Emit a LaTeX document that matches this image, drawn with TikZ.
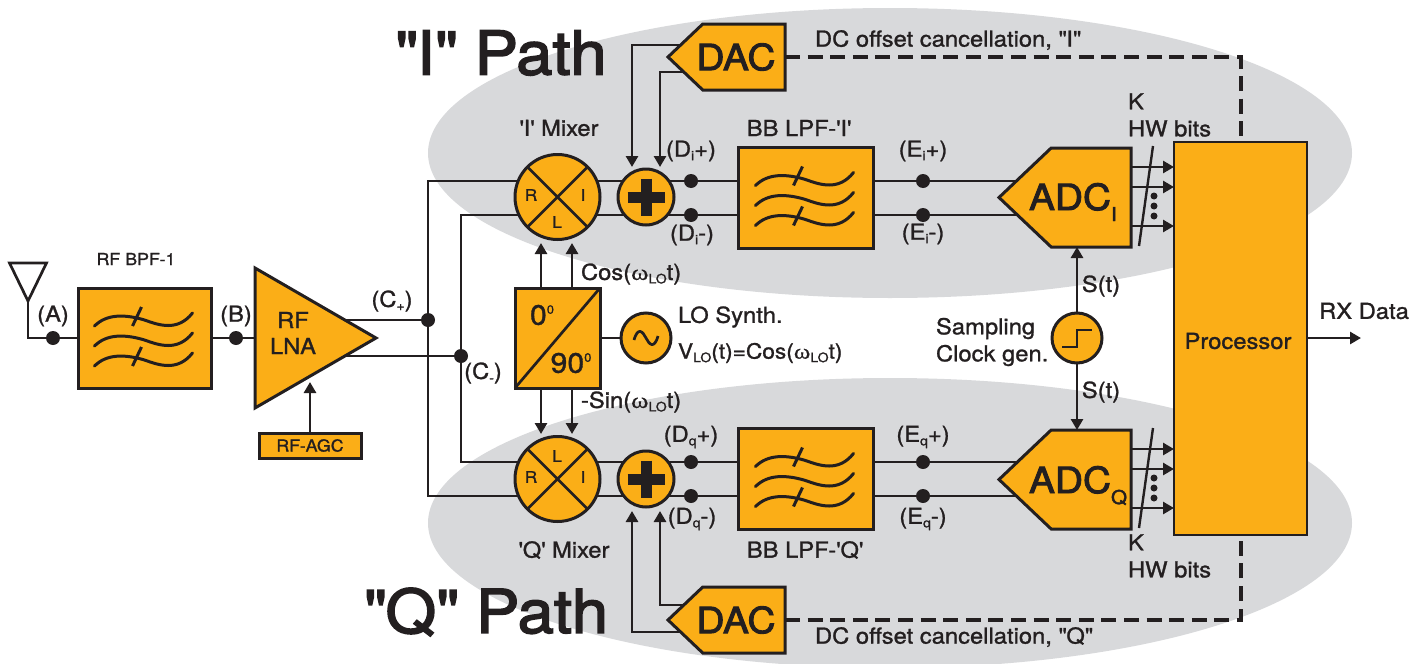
\documentclass[tikz,border=0pt]{standalone}
\usepackage{fontspec}
\setmainfont{TeX Gyre Heros}[FakeStretch=1.08, FakeBold=1.2]
\newfontfamily\heavyfont{TeX Gyre Heros}[FakeStretch=1.08, FakeBold=2.5]
\newfontfamily\greekfont{Liberation Serif}[FakeStretch=1.2, FakeBold=0.5]
\usepackage{tikz}
\usetikzlibrary{arrows.meta, positioning, backgrounds, shapes.geometric, shapes.symbols}
\definecolor{blockorange}{HTML}{FBAE17}
\definecolor{pathgray}{HTML}{D8D9DB}
\definecolor{ink}{HTML}{231F20}
\newcommand{\subtxt}[1]{\raisebox{-3.5pt}{\fontsize{13}{13}\selectfont #1}}
\newcommand{\suptxt}[1]{\raisebox{11pt}{\fontsize{12}{12}\selectfont #1}}
\newcommand{\omegalo}{{\greekfont ω}\subtxt{LO}}
\newcommand{\lowpart}[1]{\raisebox{-11pt}{\fontsize{19}{19}\selectfont #1}}
\tikzset{
  block/.style={draw=ink, fill=blockorange, line width=3pt, inner sep=0pt, outer sep=0pt, text=ink},
  dot/.style={circle, fill=ink, minimum size=14pt, inner sep=0pt, outer sep=0pt},
  lbl/.style={inner sep=0pt, outer sep=0pt, text=ink, font=\fontsize{22}{26}\selectfont},
  smalllbl/.style={lbl, font=\fontsize{16.5}{20}\selectfont},
  portlbl/.style={lbl, font=\fontsize{16}{18}\selectfont},
  biglbl/.style={lbl, font=\heavyfont\fontsize{60.5}{70}\selectfont},
  conv/.style={lbl, font=\heavyfont\fontsize{36}{42}\selectfont},
  adc/.style={block, signal, signal to=west, signal from=nowhere, signal pointer angle=87, minimum width=132pt, minimum height=99pt, anchor=east},
  dac/.style={block, signal, signal to=west, signal from=nowhere, signal pointer angle=87, minimum width=117pt, minimum height=66pt, anchor=east},
  wire/.style={draw=ink, line width=2.7pt},
  pics/filterwave/.style={code={
    \foreach \dy in {-20,0,20}
      \draw[ink, line width=3pt, line cap=round] (-50,8+\dy) .. controls (-38,-4+\dy) and (-20,-4+\dy) .. (0,2+\dy) .. controls (14,7+\dy) and (33,14+\dy) .. (48,-5+\dy);
    \draw[ink, line width=3pt] (-3,-31) -- (-12,-12);
    \draw[ink, line width=3pt] (-3,9) -- (-12,28);
  }},
  pics/plussign/.style={code={
    \draw[ink, line width=11pt] (-18.5,0) -- (18.5,0);
    \draw[ink, line width=11pt] (0,-18.5) -- (0,18.5);
  }}
}

\begin{document}
\begin{tikzpicture}[x=1pt, y=-1pt, >={Triangle[length=11pt,width=12pt]}]
\useasboundingbox (0,0) rectangle (1417,664);
% Front end
\node[isosceles triangle, draw=ink, line width=2.7pt, isosceles triangle stretches, shape border rotate=270, minimum width=37pt, minimum height=38pt, inner sep=0pt, outer sep=0pt, anchor=apex] (ant) at (28,301) {};
\node[dot] (dota) at (53,338) {};
\node[block, minimum width=133pt, minimum height=100pt] (bpf) at (144.5,338) {};
\pic at (bpf.center) {filterwave};
\node[dot] (dotb) at (236,338) {};
\node[block, isosceles triangle, isosceles triangle stretches, minimum width=140pt, minimum height=121pt, anchor=lower side] (lna) at (255,338) {};
\node[block, minimum width=102pt, minimum height=25pt, font=\fontsize{16.5}{20}\selectfont] (agc) at (310,445.5) {RF-AGC};
\coordinate (lnain) at (310,382);
\node[dot] (cp) at (428,320) {};
\node[dot] (cm) at (461,356) {};
\node[lbl, align=center] (lnalbl) at (293,333) {RF\\LNA};
\node[smalllbl] (bpflbl) at (136,259) {RF BPF-1};
\node[lbl] (albl) at (53,316) {(A)};
\node[lbl] (blbl) at (236,316) {(B)};
\node[lbl] (cplbl) at (392,301) {(C\subtxt{+})};
\node[lbl] (cmlbl) at (483,373) {(C\subtxt{-})};
% I path blocks
\node[block, circle, minimum size=85pt] (mixi) at (557.5,197) {};
\node[block, circle, minimum size=56pt] (addi) at (646,197) {};
\pic at (addi.center) {plussign};
\node[dot] (dip) at (691,181) {};
\node[dot] (dim) at (691,215) {};
\node[block, minimum width=135pt, minimum height=101pt] (lpfi) at (805.5,197.5) {};
\pic at (lpfi.center) {filterwave};
\node[dot] (eip) at (923,181) {};
\node[dot] (eim) at (923,215) {};
\node[adc] (adci) at (1131,197.5) {};
\node[conv, anchor=base west] (adcilbl) at (1029,210) {ADC\lowpart{I}};
\node[dac] (daci) at (785,57) {};
\node[conv] (dacilbl) at (736,57) {DAC};
\draw[ink, line width=2.7pt] (mixi.45) -- (mixi.225) (mixi.135) -- (mixi.315);
\node[portlbl] (ri) at (531,195) {R};
\node[portlbl] (ii) at (583,195) {I};
\node[portlbl] (li) at (557,222) {L};
% Q path blocks
\node[block, circle, minimum size=85pt] (mixq) at (557.5,479) {};
\node[block, circle, minimum size=56pt] (addq) at (646,479) {};
\pic at (addq.center) {plussign};
\node[dot] (dqp) at (691,462) {};
\node[dot] (dqm) at (691,496) {};
\node[block, minimum width=135pt, minimum height=101pt] (lpfq) at (805.5,478.5) {};
\pic at (lpfq.center) {filterwave};
\node[dot] (eqp) at (923,462) {};
\node[dot] (eqm) at (923,496) {};
\node[adc] (adcq) at (1131,479.5) {};
\node[conv, anchor=base west] (adcqlbl) at (1029,493) {ADC\lowpart{Q}};
\node[dac] (dacq) at (785,620) {};
\node[conv] (dacqlbl) at (736,620) {DAC};
\draw[ink, line width=2.7pt] (mixq.45) -- (mixq.225) (mixq.135) -- (mixq.315);
\node[portlbl] (rq) at (531,477) {R};
\node[portlbl] (iq) at (583,477) {I};
\node[portlbl] (lq) at (557,456) {L};
% LO and clock
\node[block, minimum width=85pt, minimum height=100pt] (split) at (557.5,338) {};
\draw[ink, line width=2.7pt] (split.south west) -- (split.north east);
\node[lbl, font=\fontsize{28}{32}\selectfont] (zerolbl) at (542,315) {0\suptxt{0}};
\node[lbl, font=\fontsize{28}{32}\selectfont] (ninetylbl) at (571,363) {90\suptxt{0}};
\node[block, circle, minimum size=50pt] (losyn) at (646,338) {};
\draw[ink, line width=2.7pt] (634,340) .. controls (638,326) and (643,332) .. (646,338) .. controls (649,344) and (654,350) .. (658,336);
\node[block, circle, minimum size=50pt] (clk) at (1077,338) {};
\draw[ink, line width=2.7pt] (1062,347) -- (1077,347) -- (1077,330) -- (1092,330);
\node[block, minimum width=133pt, minimum height=393pt, line width=1.5pt] (proc) at (1240.5,338.5) {};
\node[lbl] (proclbl) at (1238,341) {Processor};
\coordinate (rxout) at (1361,338);
% Labels
\node[biglbl] (ipath) at (501,53) {\textquotedbl I\textquotedbl{} Path};
\node[biglbl] (qpath) at (486,612) {\textquotedbl Q\textquotedbl{} Path};
\node[lbl] (mixilbl) at (559,128) {\textquotesingle I\textquotesingle{} Mixer};
\node[lbl] (mixqlbl) at (564,550) {\textquotesingle Q\textquotesingle{} Mixer};
\node[lbl] (lpfilbl) at (799,128) {BB LPF-\textquotesingle I\textquotesingle};
\node[lbl] (lpfqlbl) at (805,550) {BB LPF-\textquotesingle Q\textquotesingle};
\node[lbl] at (691,151) (diplbl) {(D\subtxt{i}+)};
\node[lbl] at (692,235) (dimlbl) {(D\subtxt{i}-)};
\node[lbl] at (923,151) (eiplbl) {(E\subtxt{i}+)};
\node[lbl] at (923,234) (eimlbl) {(E\subtxt{i}-)};
\node[lbl] at (691,437) (dqplbl) {(D\subtxt{q}+)};
\node[lbl] at (692,519) (dqmlbl) {(D\subtxt{q}-)};
\node[lbl] at (923,437) (eqplbl) {(E\subtxt{q}+)};
\node[lbl] at (923,519) (eqmlbl) {(E\subtxt{q}-)};
\node[lbl, anchor=west] (coslbl) at (581,274) {Cos(\omegalo t)};
\node[lbl, anchor=west] (sinlbl) at (581,402) {-Sin(\omegalo t)};
\node[lbl, anchor=west] (synlbl) at (678,317) {LO Synth.};
\node[lbl, anchor=west, font=\fontsize{21}{24}\selectfont] (vlolbl) at (678,353) {V\subtxt{LO}(t)=Cos(\omegalo t)};
\node[lbl, align=left, anchor=west] (clklbl) at (936,342) {Sampling\\[1pt]Clock gen.};
\node[lbl] (stalbl) at (1101,286) {S(t)};
\node[lbl] (stblbl) at (1101,392) {S(t)};
\node[lbl, align=left, anchor=west] (kilbl) at (1128,115) {K\\[1pt]HW bits};
\node[lbl, align=left, anchor=west] (kqlbl) at (1128,556) {K\\[1pt]HW bits};
\node[lbl, anchor=west] (dcilbl) at (815,40) {DC offset cancellation, \textquotedbl I\textquotedbl};
\node[lbl, anchor=west] (dcqlbl) at (815,637) {DC offset cancellation, \textquotedbl Q\textquotedbl};
\node[lbl] (rxlbl) at (1364,311) {RX Data};
% Bus dots
\foreach \y in {196,206,216,478,488,498}
  \fill[ink] (1154,\y) circle (3.5);
% Feedback ends
\coordinate (addia) at (632,167);
\coordinate (addib) at (660,167);
\coordinate (addqa) at (632,511);
\coordinate (addqb) at (660,511);
\coordinate (cosa) at (541,243);
\coordinate (cosb) at (572,243);
\coordinate (sina) at (541,434);
\coordinate (sinb) at (572,434);
\coordinate (dacia) at (700,45);
\coordinate (dacib) at (700,72);
\coordinate (dacqa) at (700,632);
\coordinate (dacqb) at (700,605);
\begin{scope}[on background layer]
\fill[pathgray] (890,153) ellipse [x radius=462, y radius=145];
\fill[pathgray] (890,523) ellipse [x radius=462, y radius=145];
\draw[wire] (ant.apex) |- (dota) -- (bpf) -- (dotb) -- (lna.lower side);
\draw[wire] (cp -| lna.center) -- (cp);
\draw[wire] (cm -| lna.center) -- (cm);
\draw[wire] (cp) |- (dip) -- (eip) -- (eip -| adci.east);
\draw[wire] (cm) |- (dim) -- (eim) -- (eim -| adci.east);
\draw[wire] (cm) |- (dqp) -- (eqp) -- (eqp -| adcq.east);
\draw[wire] (cp) |- (dqm) -- (eqm) -- (eqm -| adcq.east);
\draw[wire, ->] (agc) -- (lnain);
\draw[wire] (split) -- (losyn);
\draw[wire, ->] (cosa |- split.north) -- (cosa);
\draw[wire, ->] (cosb |- split.north) -- (cosb);
\draw[wire, ->] (sina |- split.south) -- (sina);
\draw[wire, ->] (sinb |- split.south) -- (sinb);
\draw[wire, ->] (dacia) -| (addia);
\draw[wire, ->] (dacib) -| (addib);
\draw[wire, ->] (dacqa) -| (addqa);
\draw[wire, ->] (dacqb) -| (addqb);
\draw[wire, ->] (clk) -- (adci.south -| clk);
\draw[wire, ->] (clk) -- (adcq.north -| clk);
\draw[wire, ->] (proc.east |- rxout) -- (rxout);
\draw[ink, line width=4pt, dash pattern=on 15pt off 7.6pt] (daci.east) -| (proc.north);
\draw[ink, line width=4pt, dash pattern=on 15pt off 7.6pt] (dacq.east) -| (proc.south);
% Bit buses
\foreach \y in {167,187,226,449,469,508}
  \draw[wire, ->] (adci.east |- 0,\y) -- (proc.west |- 0,\y);
\draw[ink, line width=2.4pt] (1153,146) -- (1139,246);
\draw[ink, line width=2.4pt] (1153,428) -- (1139,528);
\end{scope}
\end{tikzpicture}
\end{document}
